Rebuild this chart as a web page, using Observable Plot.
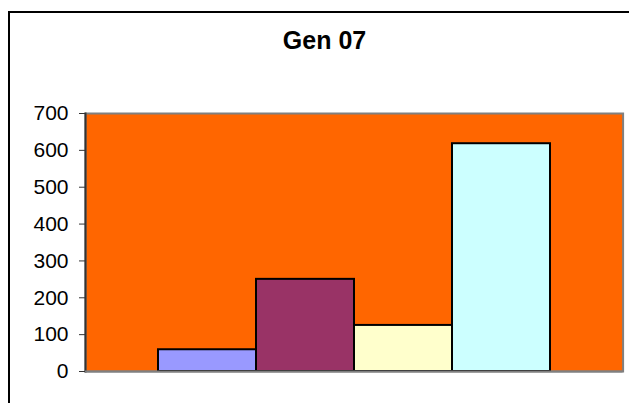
<!DOCTYPE html>
<html>
<head>
<meta charset="utf-8">
<script src="https://cdn.jsdelivr.net/npm/d3@7"></script>
<script src="https://cdn.jsdelivr.net/npm/@observablehq/plot@0.6"></script>
<style>
  html, body { margin: 0; padding: 0; background: #fff; }
  body { width: 629px; height: 403px; overflow: hidden; position: relative; font-family: "Liberation Sans", Arial, sans-serif; }
  #frame { position: absolute; left: 8px; top: 11px; width: 700px; height: 500px; border-left: 2px solid #000; border-top: 2px solid #000; box-sizing: border-box; }
  #title { position: absolute; left: 8px; top: 0; width: 633px; height: 100px; box-sizing: border-box; padding-top: 28px; line-height: 25px; font-size: 25px; font-weight: bold; text-align: center; color: #000; }
  #chart { position: absolute; left: 0; top: 100px; }
</style>
</head>
<body>
<div id="frame"></div>
<div id="title">Gen 07</div>
<div id="chart"></div>
<script>
const categories = ["Series1", "Series2", "Series3", "Series4"];
const values = [59, 250, 125, 618];
const yTicks = [0, 100, 200, 300, 400, 500, 600, 700];
const barColors = ["#9999FF", "#993366", "#FFFFCC", "#CCFFFF"];

const data = categories.map((c, i) => ({category: c, value: values[i]}));

const chart = Plot.plot({
  width: 629,
  height: 303,
  marginTop: 13,
  marginBottom: 32,
  marginLeft: 85,
  marginRight: 6.4,
  style: {fontSize: "21px", fontFamily: "'Liberation Sans', Arial, sans-serif", color: "#000", background: "transparent", overflow: "visible"},
  x: {domain: categories, paddingInner: 0, paddingOuter: 0.72, axis: null},
  y: {domain: [0, 700], ticks: yTicks, label: null},
  color: {domain: categories, range: barColors},
  marks: [
    Plot.frame({fill: "#FF6600", stroke: "#808080", strokeWidth: 2}),
    Plot.frame({anchor: "left", stroke: "#333", strokeWidth: 2}),
    Plot.axisY({ticks: yTicks, tickSize: 6, tickPadding: 11, tickFormat: d => String(d), stroke: "#333", fontSize: 21, label: null}),
    Plot.barY(data, {x: "category", y: "value", fill: "category", stroke: "#000", strokeWidth: 2}),
    Plot.ruleY([0], {stroke: "#808080", strokeWidth: 2})
  ]
});
document.getElementById("chart").appendChild(chart);
</script>
</body>
</html>
